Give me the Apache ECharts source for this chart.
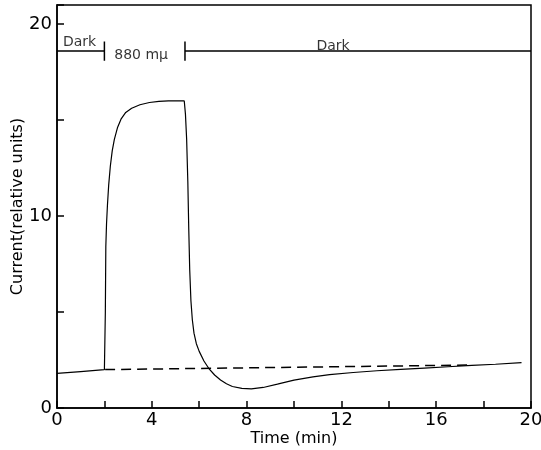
<!DOCTYPE html>
<html>
<head>
<meta charset="utf-8">
<script src="https://cdn.jsdelivr.net/npm/echarts@6/dist/echarts.min.js"></script>
<style>
  html, body { margin: 0; padding: 0; background: #fff; }
  #chart { width: 541px; height: 450px; }
</style>
</head>
<body>
<div id="chart"></div>
<script>
// photocurrent trace (time in min, current in relative units)
const currentTrace = [
  [0, 1.8], [1, 1.9], [2.0, 2.0], [2.03, 2.0], [2.04, 5.0], [2.06, 8.4],
  [2.09, 9.6], [2.13, 10.6], [2.18, 11.6], [2.25, 12.6], [2.33, 13.4],
  [2.42, 14.0], [2.55, 14.6], [2.7, 15.05], [2.9, 15.4], [3.15, 15.62],
  [3.5, 15.8], [3.9, 15.92], [4.3, 15.98], [4.7, 16.0], [5.37, 16.0],
  [5.42, 15.3], [5.47, 14.0], [5.52, 11.8], [5.56, 9.3], [5.6, 7.2],
  [5.65, 5.6], [5.71, 4.6], [5.78, 3.9], [5.88, 3.35], [6.0, 2.95],
  [6.2, 2.45], [6.4, 2.07], [6.65, 1.72], [6.9, 1.46], [7.15, 1.26],
  [7.4, 1.12], [7.8, 1.02], [8.2, 1.0], [8.7, 1.07], [9.3, 1.24],
  [10.0, 1.45], [10.8, 1.62], [11.5, 1.74], [12.5, 1.85], [13.5, 1.94],
  [14.5, 2.01], [15.5, 2.08], [16.5, 2.15], [17.5, 2.22], [18.5, 2.28],
  [19.6, 2.36]
];
// dark-current baseline (dashed)
const baseline = [[2.03, 2.0], [17.5, 2.24]];

// light period marker
const lightOn = 2.0;
const lightOff = 5.4;
const barLevel = 18.6;
const periodLabels = ['Dark', '880 m\u03bc', 'Dark'];
const periodLabelPos = [[0.25, 19.05], [3.55, 18.35], [11.65, 18.85]];
const periodLabelAlign = ['left', 'center', 'center'];

const xTickLabels = [0, 4, 8, 12, 16, 20];
const yTickLabels = [0, 10, 20];

const chart = echarts.init(document.getElementById('chart'));
const font = 'DejaVu Sans';

chart.setOption({
  animation: false,
  grid: {
    left: 57, right: 10, top: 5, bottom: 42,
    outerBoundsMode: 'none', containLabel: false,
    show: true, borderColor: '#000', borderWidth: 1.5, backgroundColor: 'transparent'
  },
  xAxis: {
    type: 'value', min: 0, max: 20, interval: 2,
    name: 'Time (min)', nameLocation: 'middle', nameGap: 23, nameMoveOverlap: false,
    nameTextStyle: { color: '#000', fontSize: 16, fontFamily: font },
    axisLine: { lineStyle: { color: '#000', width: 1.5 } },
    axisTick: { inside: true, length: 7, lineStyle: { color: '#000', width: 1.5 } },
    axisLabel: {
      color: '#000', fontSize: 18, fontFamily: font, margin: 3,
      formatter: v => xTickLabels.includes(v) ? String(v) : ''
    },
    splitLine: { show: false }
  },
  yAxis: {
    type: 'value', min: 0, max: 21, interval: 5,
    name: 'Current(relative units)', nameLocation: 'middle', nameGap: 31, nameMoveOverlap: false,
    nameTextStyle: { color: '#000', fontSize: 16, fontFamily: font },
    axisLine: { lineStyle: { color: '#000', width: 1.5 } },
    axisTick: { inside: true, length: 7, lineStyle: { color: '#000', width: 1.5 } },
    axisLabel: {
      color: '#000', fontSize: 18, fontFamily: font, margin: 5,
      formatter: v => yTickLabels.includes(v) ? String(v) : ''
    },
    splitLine: { show: false }
  },
  series: [
    {
      type: 'line', data: currentTrace, showSymbol: false, symbol: 'none',
      lineStyle: { color: '#000', width: 1.2 }
    },
    {
      type: 'line', data: baseline, showSymbol: false, symbol: 'none',
      lineStyle: { color: '#000', width: 1.5, type: [10, 6] }
    },
    {
      type: 'line', symbol: 'none',
      data: [[0, barLevel], [lightOn, barLevel], [lightOn, barLevel + 0.5], [lightOn, barLevel - 0.5]],
      lineStyle: { color: '#000', width: 1.5 }
    },
    {
      type: 'line', symbol: 'none',
      data: [[lightOff, barLevel + 0.5], [lightOff, barLevel - 0.5], [lightOff, barLevel], [20, barLevel]],
      lineStyle: { color: '#000', width: 1.5 }
    },
    {
      type: 'scatter', symbolSize: 0,
      data: periodLabels.map((t, i) => ({
        value: periodLabelPos[i], name: t,
        label: { align: periodLabelAlign[i] }
      })),
      label: {
        show: true, position: 'inside', formatter: p => p.name,
        color: '#000', fontSize: 14, fontFamily: font,
        verticalAlign: 'middle'
      }
    }
  ]
});
</script>
</body>
</html>
